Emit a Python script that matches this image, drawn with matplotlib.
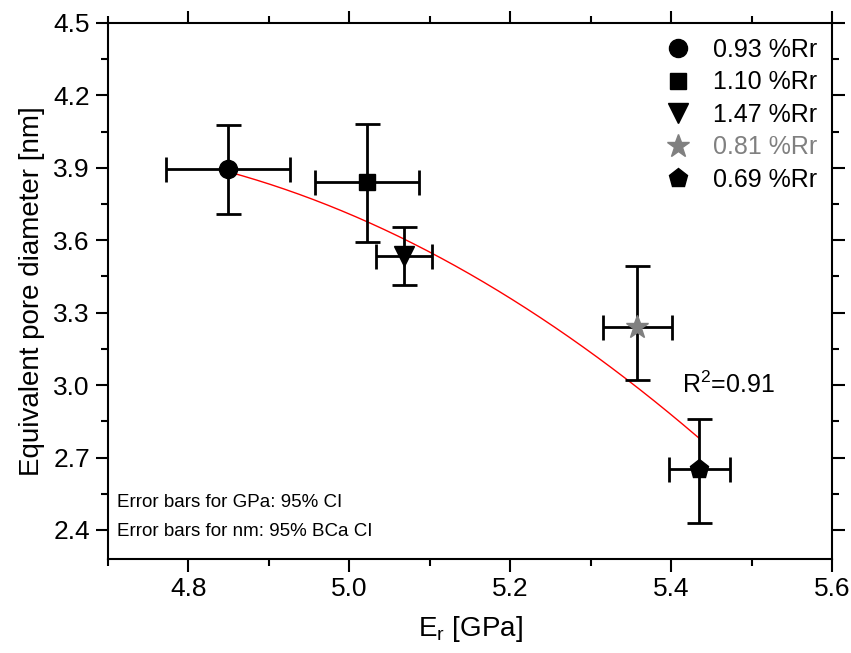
import matplotlib.pyplot as plt
import numpy as np
from matplotlib.ticker import MultipleLocator

plt.rcParams['font.family'] = ['Liberation Sans', 'DejaVu Sans']

labels = ['0.93 %Rr', '1.10 %Rr', '1.47 %Rr', '0.81 %Rr', '0.69 %Rr']
markers = ['o', 's', 'v', '*', 'p']
colors = ['black', 'black', 'black', 'gray', 'black']
sizes = [13, 11.5, 14, 17, 14]

er = [4.849, 5.022, 5.068, 5.358, 5.435]          # GPa
er_err = [0.077, 0.065, 0.035, 0.043, 0.038]
pore = [3.895, 3.843, 3.535, 3.240, 2.652]       # nm
pore_lo = [3.708, 3.594, 3.415, 3.021, 2.428]
pore_hi = [4.077, 4.082, 3.654, 3.493, 2.860]

# quadratic fit: y = c0 + c1*(x-x0) + c2*(x-x0)^2
fit_x0 = 4.849
fit_c = [3.884, -0.909, -1.665]
fit_range = [4.849, 5.435]

fig = plt.figure(figsize=(8.51, 6.53), dpi=100)
ax = fig.add_axes([0.1269, 0.144, 0.8508, 0.8208])

xs = np.linspace(fit_range[0], fit_range[1], 200)
t = xs - fit_x0
ax.plot(xs, fit_c[0] + fit_c[1] * t + fit_c[2] * t**2, color='red', lw=1, zorder=2)

for i in range(len(er)):
    yerr = [[pore[i] - pore_lo[i]], [pore_hi[i] - pore[i]]]
    ax.errorbar(er[i], pore[i], xerr=er_err[i], yerr=yerr, fmt='none',
                ecolor='black', elinewidth=2, capsize=9, capthick=2, zorder=3)
    ax.plot(er[i], pore[i], marker=markers[i], ms=sizes[i], color=colors[i],
            linestyle='none', label=labels[i], zorder=4)

ax.set_xlim(4.7, 5.6)
ax.set_ylim(2.28, 4.5)
ax.xaxis.set_major_locator(MultipleLocator(0.2))
ax.xaxis.set_minor_locator(MultipleLocator(0.1))
ax.yaxis.set_major_locator(MultipleLocator(0.3))
ax.yaxis.set_minor_locator(MultipleLocator(0.15))
ax.tick_params(which='both', direction='out', top=True, right=True, width=1.5,
               labelsize=19)
ax.tick_params(which='major', length=9, pad=4)
ax.tick_params(which='minor', length=5)
for s in ax.spines.values():
    s.set_linewidth(1.5)

ax.set_xlabel('E$_\\mathregular{r}$ [GPa]', fontsize=20, labelpad=9)
ax.set_ylabel('Equivalent pore diameter [nm]', fontsize=20, labelpad=6)

leg = ax.legend(loc='upper right', frameon=False, fontsize=18, labelspacing=0.34,
                handletextpad=0.6, borderaxespad=0.2, handlelength=1.6)
leg.get_texts()[3].set_color('gray')

ax.text(5.414, 3.0, 'R$^\\mathregular{2}$=0.91', fontsize=18, ha='left', va='center')
ax.text(0.012, 0.106, 'Error bars for GPa: 95% CI', transform=ax.transAxes,
        fontsize=13.5, va='center')
ax.text(0.012, 0.052, 'Error bars for nm: 95% BCa CI', transform=ax.transAxes,
        fontsize=13.5, va='center')

fig.savefig('out.png', dpi=100)
